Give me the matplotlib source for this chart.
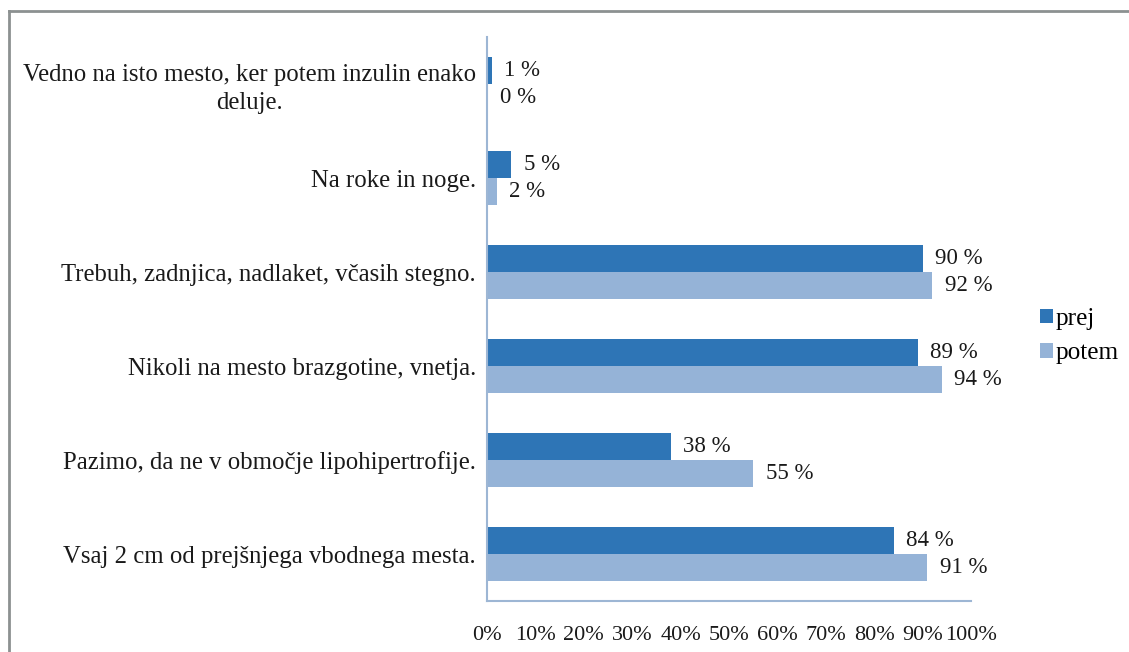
import matplotlib.pyplot as plt
from matplotlib.lines import Line2D
import numpy as np

categories = [
    'Vedno na isto mesto, ker potem inzulin enako\ndeluje.',
    'Na roke in noge.',
    'Trebuh, zadnjica, nadlaket, včasih stegno.',
    'Nikoli na mesto brazgotine, vnetja.',
    'Pazimo, da ne v območje lipohipertrofije.',
    'Vsaj 2 cm od prejšnjega vbodnega mesta.',
]
prej = [1, 5, 90, 89, 38, 84]
potem = [0, 2, 92, 94, 55, 91]
xticks = [0, 10, 20, 30, 40, 50, 60, 70, 80, 90, 100]

plt.rcParams['font.family'] = ['Liberation Serif', 'DejaVu Serif']
plt.rcParams['font.size'] = 16

fig = plt.figure(figsize=(11.29, 6.52), dpi=100)
ax = fig.add_axes([487 / 1129, 1 - 601 / 652, (971 - 487) / 1129, (601 - 37) / 652])

y = np.arange(len(categories))
h = 0.287
b1 = ax.barh(y - h / 2, prej, height=h, color='#2E75B6', label='prej')
b2 = ax.barh(y + h / 2, potem, height=h, color='#95B3D7', label='potem')

ax.bar_label(b1, labels=[f'{v} %' for v in prej], padding=9, color='#1a1a1a', fontsize=16.5)
ax.bar_label(b2, labels=[f'{v} %' for v in potem], padding=9, color='#1a1a1a', fontsize=16.5)

ax.set_ylim(len(categories) - 0.5, -0.5)
ax.set_xlim(0, 100)
ax.set_yticks(y)
ax.set_yticklabels(categories, multialignment='center', fontsize=17.8, linespacing=1.3)
ax.set_xticks(xticks)
ax.set_xticklabels([f'{t}%' for t in xticks], fontsize=16)
ax.tick_params(axis='both', length=0, colors='#1a1a1a')
ax.tick_params(axis='x', pad=18)
ax.tick_params(axis='y', pad=8)

for s in ['top', 'right']:
    ax.spines[s].set_visible(False)
for s in ['left', 'bottom']:
    ax.spines[s].set_color('#9DB6D4')
    ax.spines[s].set_linewidth(1.5)

fig.legend(handles=[b1, b2], loc='center left', bbox_to_anchor=(1035 / 1129, 1 - 336 / 652),
           frameon=False, handlelength=0.5, handleheight=0.5, handletextpad=0.12,
           labelspacing=0.5, fontsize=18.2, borderaxespad=0, borderpad=0.2)

# outer frame (top and left edges only visible)
fig.add_artist(Line2D([9 / 1129, 1], [1 - 11 / 652, 1 - 11 / 652], transform=fig.transFigure,
                      color='#8C9191', linewidth=2))
fig.add_artist(Line2D([9 / 1129, 9 / 1129], [0, 1 - 11 / 652], transform=fig.transFigure,
                      color='#8C9191', linewidth=2))

fig.savefig('out.png', dpi=100)
